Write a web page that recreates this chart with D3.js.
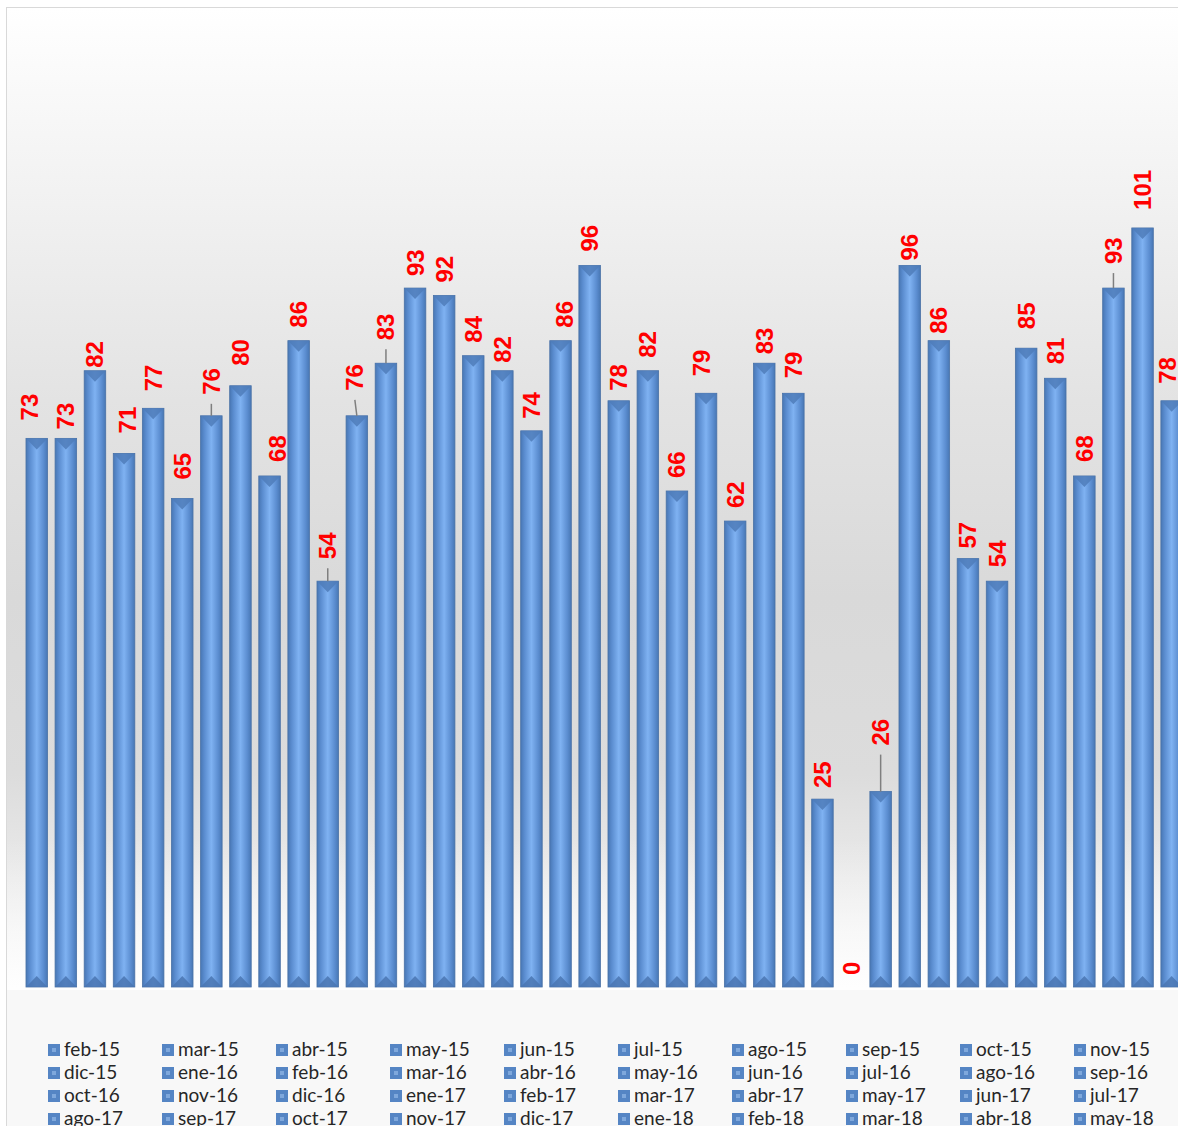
<!DOCTYPE html>
<html>
<head>
<meta charset="utf-8">
<script src="https://cdn.jsdelivr.net/npm/d3@7"></script>
<style>
  html, body { margin: 0; padding: 0; background: #ffffff; overflow: hidden; }
  svg { display: block; }
</style>
</head>
<body>
<div id="chart"></div>
<script>
// month labels (legend + categories)
const months = [
  'feb-15', 'mar-15', 'abr-15', 'may-15', 'jun-15', 'jul-15', 'ago-15', 'sep-15', 'oct-15', 'nov-15',
  'dic-15', 'ene-16', 'feb-16', 'mar-16', 'abr-16', 'may-16', 'jun-16', 'jul-16', 'ago-16', 'sep-16',
  'oct-16', 'nov-16', 'dic-16', 'ene-17', 'feb-17', 'mar-17', 'abr-17', 'may-17', 'jun-17', 'jul-17',
  'ago-17', 'sep-17', 'oct-17', 'nov-17', 'dic-17', 'ene-18', 'feb-18', 'mar-18', 'abr-18', 'may-18'
];

// value per month
const values = [
  73, 73, 82, 71, 77, 65, 76, 80, 68, 86,
  54, 76, 83, 93, 92, 84, 82, 74, 86, 96,
  78, 82, 66, 79, 62, 83, 79, 25, 0, 26,
  96, 86, 57, 54, 85, 81, 68, 93, 101, 78
];

const yDomain = [0, 130];

// layout: px between bar top and its label (labels were hand-placed in the original)
const labelGap = [
  18, 9, 3, 20, 17, 19, 21, 20, 14, 13,
  22, 25, 23, 12, 13, 13, 8, 12, 13, 14,
  10, 13, 13, 17, 13, 9, 15, 11, 12, 46,
  5, 7, 10, 14, 19, 14, 14, 24, 18, 17
];
const labelShift = { 0: -7, 3: 3, 8: 8, 11: -2, 18: 4, 23: -5, 39: -4 };
const leaders = [6, 10, 11, 12, 29, 37];

const W = 1178, H = 1126;
const svg = d3.select('#chart').append('svg')
  .attr('width', W)
  .attr('height', H);

const defs = svg.append('defs');

// chart area + plot area backgrounds
const bgGrad = defs.append('linearGradient')
  .attr('id', 'bg').attr('x1', 0).attr('y1', 0).attr('x2', 0).attr('y2', 1);
[[0, '#ffffff'], [0.1, '#f8f8f8'], [0.4, '#e3e3e3'], [0.6, '#d9d9d9'], [0.78, '#dcdcdc'],
  [0.88, '#e9e9e9'], [1, '#f8f8f8']]
  .forEach(s => bgGrad.append('stop').attr('offset', s[0]).attr('stop-color', s[1]));

const barGrad = defs.append('linearGradient')
  .attr('id', 'bar').attr('x1', 0).attr('y1', 0).attr('x2', 1).attr('y2', 0);
[[0, '#4877b4'], [0.18, '#5b8dd0'], [0.5, '#7fb2f2'], [0.82, '#5b8dd0'], [1, '#4877b4']]
  .forEach(s => barGrad.append('stop').attr('offset', s[0]).attr('stop-color', s[1]));

// soft floor shadow
const shGrad = defs.append('linearGradient')
  .attr('id', 'shadow').attr('x1', 0).attr('y1', 0).attr('x2', 0).attr('y2', 1);
[[0, '#f4f4f4', 0], [0.6, '#fbfbfb', 0.7], [1, '#ffffff', 0.9]]
  .forEach(s => shGrad.append('stop').attr('offset', s[0]).attr('stop-color', s[1]).attr('stop-opacity', s[2]));

svg.append('rect')
  .attr('x', 6.5).attr('y', 7.5)
  .attr('width', W).attr('height', H)
  .attr('fill', '#f8f8f8')
  .attr('stroke', '#d9d9d9');

const plot = { top: 10, bottom: 987 };

svg.append('rect')
  .attr('x', 7).attr('y', 8)
  .attr('width', W).attr('height', plot.bottom + 3 - 8)
  .attr('fill', 'url(#bg)');

svg.append('rect')
  .attr('x', 7).attr('y', 840)
  .attr('width', W).attr('height', plot.bottom + 3 - 840)
  .attr('fill', 'url(#shadow)');

// scales
const x = d3.scaleBand()
  .domain(months)
  .range([22.2, 22.2 + months.length * 29.1])
  .paddingInner(0.26)
  .paddingOuter(0.13);

const y = d3.scaleLinear()
  .domain(yDomain)
  .range([plot.bottom, plot.top]);

const data = months.map((m, i) => ({ m, v: values[i], i }));
const bw = x.bandwidth();

const bars = svg.append('g').attr('class', 'bars')
  .selectAll('g')
  .data(data.filter(d => d.v > 0))
  .enter().append('g');

bars.append('rect')
  .attr('x', d => x(d.m))
  .attr('y', d => y(d.v))
  .attr('width', bw)
  .attr('height', d => y(0) - y(d.v))
  .attr('fill', 'url(#bar)')
  .attr('stroke', '#4a72a6')
  .attr('stroke-width', 0.8);

// top bevel
bars.append('path')
  .attr('d', d => {
    const x0 = x(d.m), x1 = x0 + bw, t = y(d.v);
    return `M${x0},${t}L${x1},${t}L${x1 - 4},${t + 4}L${x0 + bw / 2},${t + 11}L${x0 + 4},${t + 4}Z`;
  })
  .attr('fill', '#4f7dba')
  .attr('opacity', 0.85);

// bottom bevel
bars.append('path')
  .attr('d', d => {
    const x0 = x(d.m), x1 = x0 + bw, b = y(0);
    return `M${x0},${b}L${x1},${b}L${x1 - 4},${b - 4}L${x0 + bw / 2},${b - 11}L${x0 + 4},${b - 4}Z`;
  })
  .attr('fill', '#4a76b2')
  .attr('opacity', 0.85);

const labelX = d => x(d.m) + bw / 2 + (labelShift[d.i] || 0);
const labelY = d => y(d.v) - labelGap[d.i];

// leader lines
svg.append('g').attr('class', 'leaders')
  .selectAll('line')
  .data(data.filter(d => leaders.includes(d.i)))
  .enter().append('line')
  .attr('x1', d => labelX(d))
  .attr('y1', d => labelY(d) + 9)
  .attr('x2', d => x(d.m) + bw / 2)
  .attr('y2', d => y(d.v))
  .attr('stroke', '#7f7f7f')
  .attr('stroke-width', 1.5);

// value labels
svg.append('g').attr('class', 'labels')
  .selectAll('text')
  .data(data)
  .enter().append('text')
  .attr('transform', d => `translate(${labelX(d) + 8.5},${labelY(d)}) rotate(-90)`)
  .attr('text-anchor', 'start')
  .attr('font-family', '"Liberation Sans", Arial, sans-serif')
  .attr('font-weight', 'bold')
  .attr('font-size', 24)
  .attr('fill', '#ff0000')
  .text(d => d.v);

// legend
const legend = svg.append('g').attr('class', 'legend')
  .selectAll('g')
  .data(months)
  .enter().append('g')
  .attr('transform', (d, i) => `translate(${48 + (i % 10) * 114}, ${1044 + Math.floor(i / 10) * 23})`);

legend.append('rect')
  .attr('width', 12).attr('height', 12)
  .attr('fill', '#5585c4');

legend.append('rect')
  .attr('x', 4).attr('y', 4)
  .attr('width', 4).attr('height', 4)
  .attr('fill', '#7fa8dc');

legend.append('text')
  .attr('x', 16).attr('y', 12)
  .attr('font-family', 'Lato, "Noto Sans", sans-serif')
  .attr('font-size', 19)
  .attr('fill', '#262626')
  .text(d => d);
</script>
</body>
</html>
